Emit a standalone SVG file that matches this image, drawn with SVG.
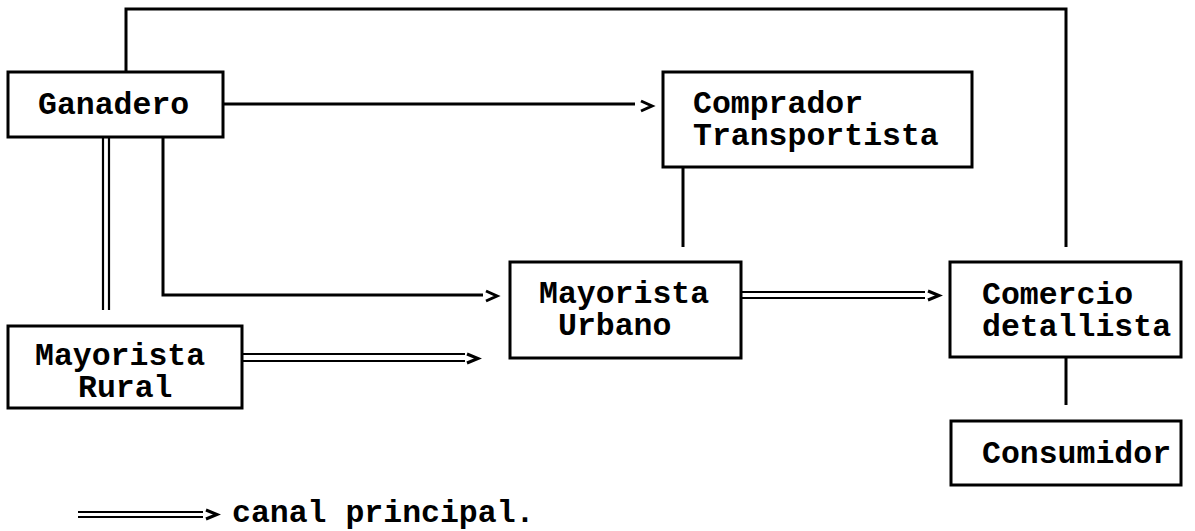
<svg xmlns="http://www.w3.org/2000/svg" width="1195" height="531" viewBox="0 0 1195 531">
<style>
.box{fill:#fff;stroke:#000;stroke-width:3}
.ln{fill:none;stroke:#000;stroke-width:3}
.dl{fill:none;stroke:#000;stroke-width:2.2}
.hd{fill:none;stroke:#000;stroke-width:3;stroke-linejoin:miter}
text{font-family:"Liberation Mono","Courier New",monospace;font-weight:bold;font-size:31.5px;fill:#000}
</style>
<rect width="1195" height="531" fill="#fff"/>
<g id="connectors">
<path class="ln" d="M126,72 V9 H1066 V247"/>
<path class="ln" d="M223,104 H635"/>
<path class="hd" d="M641,101 L652,106 L641,111"/>
<path class="ln" d="M163,137 V295 H483"/>
<path class="hd" d="M486,291 L497,296 L486,301"/>
<path class="dl" d="M103,137 V310 M109,137 V310"/>
<path class="dl" d="M242,354 H465 M242,361 H465"/>
<path class="hd" d="M467,354 L478,358.5 L467,363"/>
<path class="dl" d="M741,292 H925 M741,298 H925"/>
<path class="hd" d="M928,291 L939,295.5 L928,300"/>
<path class="ln" d="M683,167 V247"/>
<path class="ln" d="M1066,357 V405"/>
</g>
<g id="ganadero"><rect class="box" x="8" y="72" width="215" height="65"/><text x="38" y="114">Ganadero</text></g>
<g id="comprador"><rect class="box" x="663" y="72" width="309" height="95"/><text x="693" y="113">Comprador</text><text x="693" y="145">Transportista</text></g>
<g id="mayorista-urbano"><rect class="box" x="510" y="262" width="231" height="96"/><text x="539" y="303">Mayorista</text><text x="558" y="335">Urbano</text></g>
<g id="mayorista-rural"><rect class="box" x="8" y="326" width="234" height="82"/><text x="35" y="365">Mayorista</text><text x="78" y="397">Rural</text></g>
<g id="comercio"><rect class="box" x="950" y="262" width="231" height="95"/><text x="982" y="304">Comercio</text><text x="982" y="336">detallista</text></g>
<g id="consumidor"><rect class="box" x="951" y="421" width="230" height="64"/><text x="982" y="463">Consumidor</text></g>
<g id="legend">
<path class="dl" d="M78,512 H203 M78,517 H203"/>
<path class="hd" d="M206,510 L217,514.5 L206,519"/>
<text x="232" y="522">canal principal.</text>
</g>
</svg>
